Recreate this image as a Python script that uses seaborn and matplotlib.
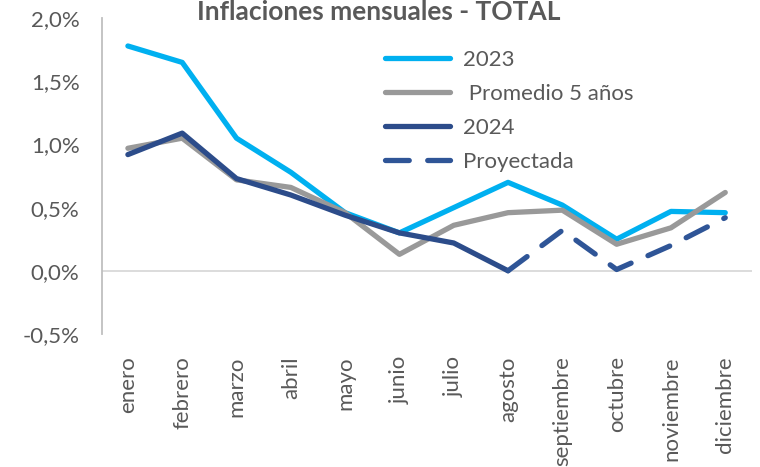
import matplotlib
matplotlib.use("Agg")
import matplotlib.pyplot as plt
import numpy as np
import pandas as pd
import seaborn as sns

# --- Data (monthly inflation, %) ---
months = ["enero", "febrero", "marzo", "abril", "mayo", "junio", "julio",
          "agosto", "septiembre", "octubre", "noviembre", "diciembre"]
infl_2023 = [1.78, 1.65, 1.05, 0.78, 0.46, 0.30, 0.50, 0.70, 0.52, 0.25, 0.47, 0.46]
infl_prom5 = [0.97, 1.05, 0.72, 0.66, 0.46, 0.13, 0.36, 0.46, 0.48, 0.21, 0.34, 0.62]
infl_2024 = [0.92, 1.09, 0.73, 0.60, 0.44, 0.30, 0.22, 0.00, np.nan, np.nan, np.nan, np.nan]
infl_proy = [np.nan] * 7 + [0.00, 0.32, 0.01, 0.20, 0.42]

y_ticks = [-0.5, 0.0, 0.5, 1.0, 1.5, 2.0]
y_tick_labels = ["-0,5%", "0,0%", "0,5%", "1,0%", "1,5%", "2,0%"]

series = [
    ("2023", infl_2023, "#00B0F0", "-"),
    (" Promedio 5 años", infl_prom5, "#999999", "-"),
    ("2024", infl_2024, "#2C4C8A", "-"),
    ("Proyectada", infl_proy, "#2F5597", (0, (4.5, 3.5))),
]

# --- Plot ---
sns.set_theme(style="white")
plt.rcParams["font.family"] = ["Lato", "DejaVu Sans"]
text_color = "#595959"

fig = plt.figure(figsize=(7.6, 4.67), dpi=100)
ax = fig.add_axes([0.134, 0.285, 0.856, 0.676])

x = np.arange(len(months))
for label, values, color, ls in series:
    df = pd.DataFrame({"mes": x, "valor": values}).dropna()
    sns.lineplot(data=df, x="mes", y="valor", ax=ax, color=color, linewidth=3.8,
                 linestyle=ls, label=label, solid_capstyle="round",
                 dash_capstyle="round", solid_joinstyle="round")

ax.axhline(0, color="#D9D9D9", linewidth=1.3, zorder=0)

ax.set_xlim(-0.48, 11.5)
ax.set_ylim(-0.5, 2.0)
ax.set_xticks(x)
ax.set_xticklabels(months, rotation=90, fontsize=16, color=text_color)
ax.set_yticks(y_ticks)
ax.set_yticklabels(y_tick_labels, fontsize=16, color=text_color)
ax.tick_params(axis="x", length=0, pad=16)
ax.tick_params(axis="y", length=0, pad=16)
ax.set_xlabel("")
ax.set_ylabel("")

for side in ["top", "right", "bottom"]:
    ax.spines[side].set_visible(False)
ax.spines["left"].set_color("#BFBFBF")
ax.spines["left"].set_linewidth(1.3)

leg = ax.legend(loc="upper left", bbox_to_anchor=(0.405, 0.962), frameon=False,
                fontsize=16, handlelength=2.9, handletextpad=0.6, labelspacing=0.62)
for t in leg.get_texts():
    t.set_color(text_color)

fig.text(0.499, 1 - 20 / 467, "Inflaciones mensuales - TOTAL", ha="center",
         va="baseline", fontsize=19, fontweight="bold", color=text_color)

fig.savefig("out.png", dpi=100)
